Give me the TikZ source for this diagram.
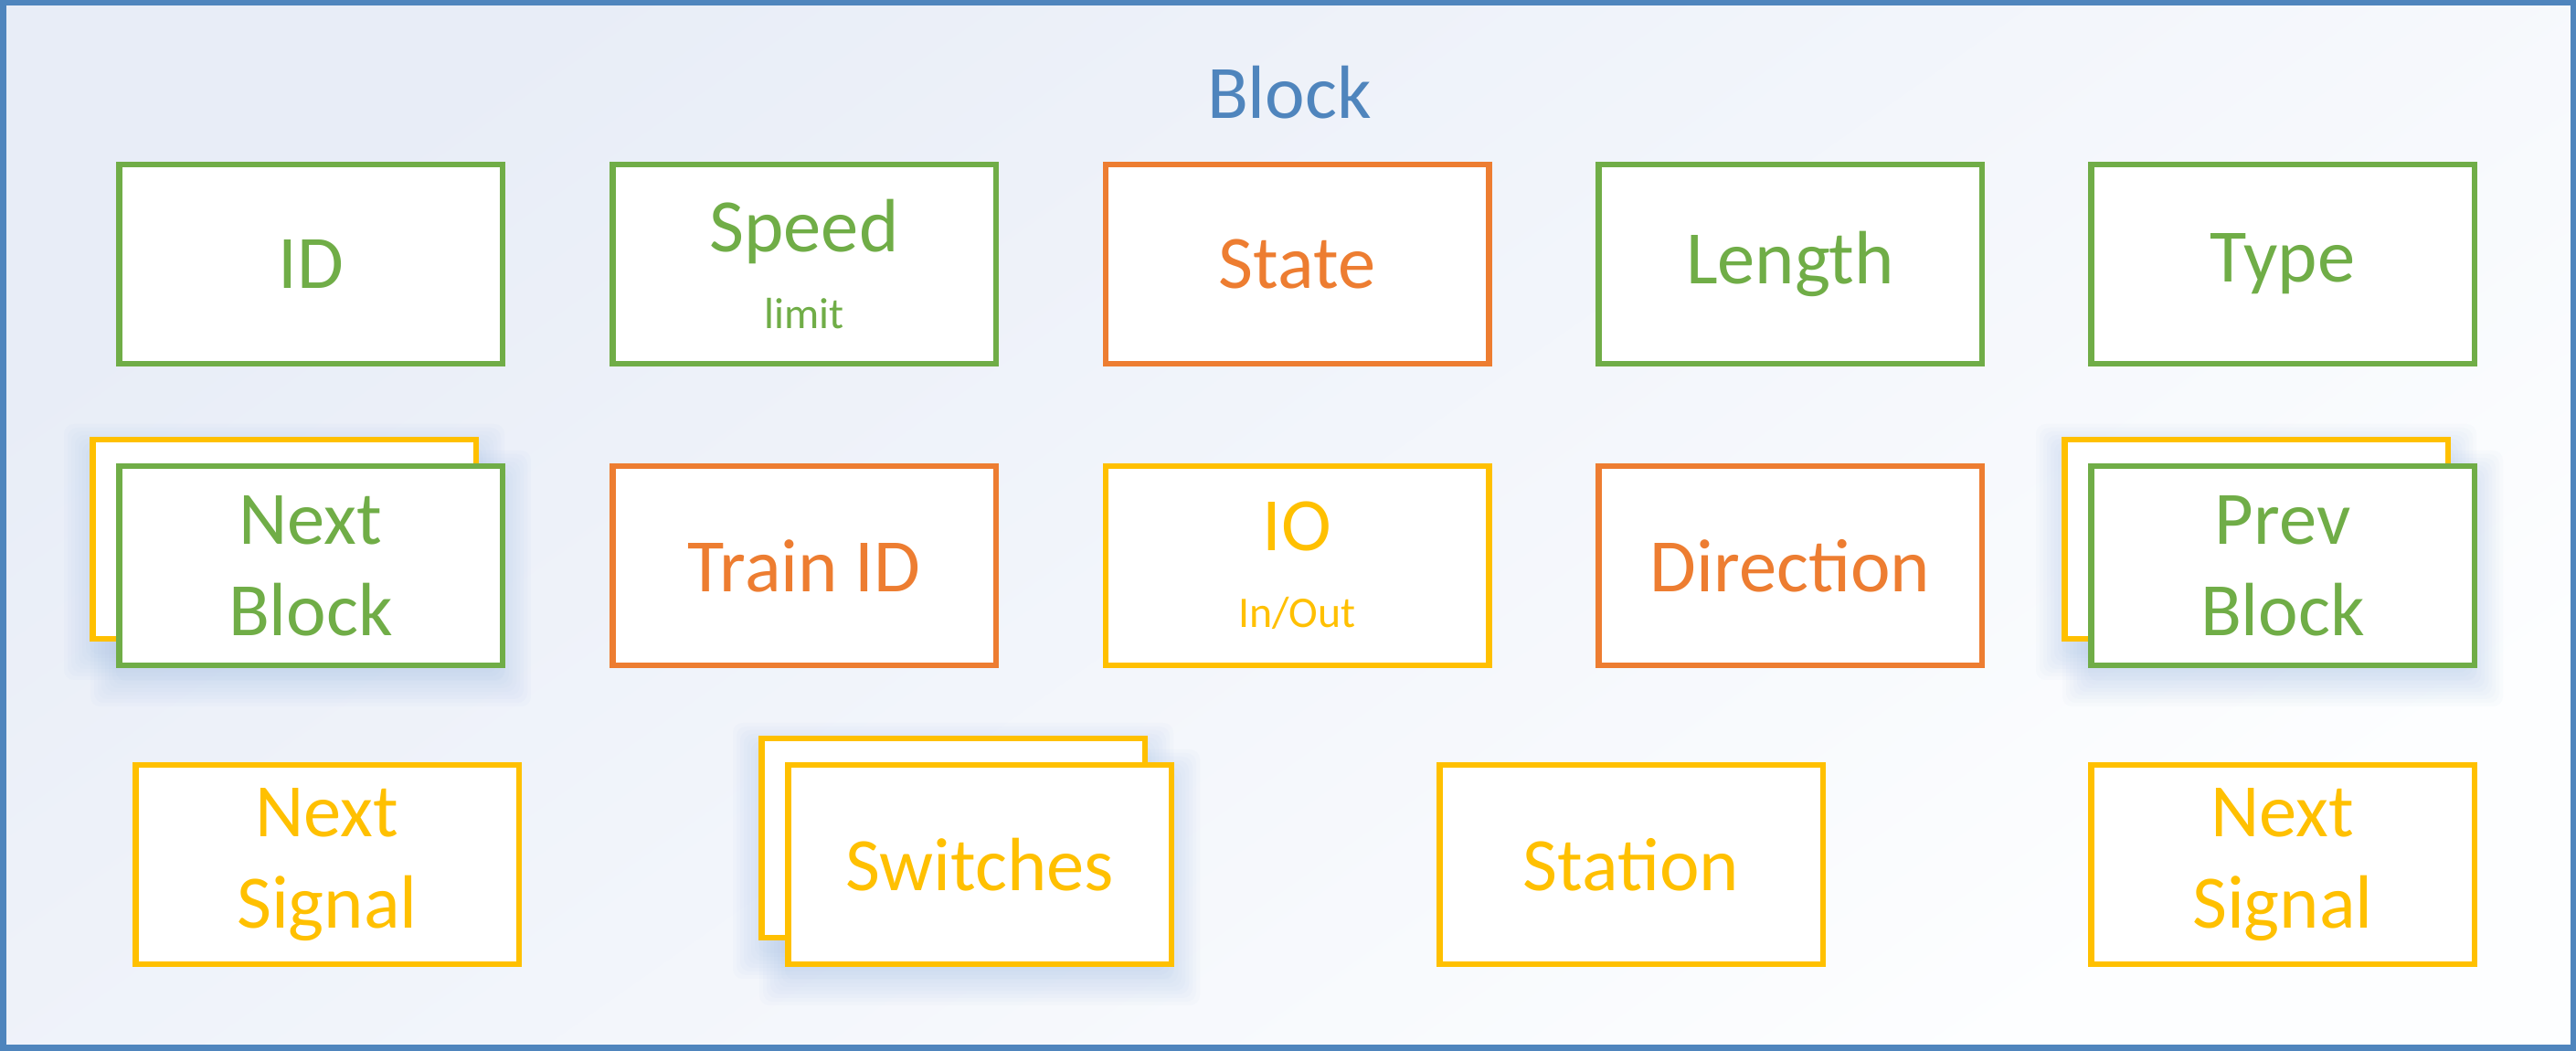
\documentclass[tikz,border=0pt]{standalone}
\usepackage{fontspec}
\setmainfont{Carlito}
\usepackage{tikz}
\usetikzlibrary{positioning}

\definecolor{blockblue}{HTML}{4F85BD}
\definecolor{fieldgreen}{HTML}{70AD47}
\definecolor{fieldorange}{HTML}{ED7D31}
\definecolor{fieldyellow}{HTML}{FFC000}
\definecolor{bgtop}{HTML}{E8EDF7}
\definecolor{bgbottom}{HTML}{FDFEFF}
\definecolor{shadowblue}{HTML}{9FBDE4}

\newcommand{\subtext}[1]{{\fontsize{13.6}{16}\selectfont #1}}
% soft shadow under a field centred at (#1,#2)
\newcommand{\fieldshadow}[2]{%
	\foreach \r in {0.0,0.04,...,0.28}
		\fill [shadowblue, opacity=0.045, rounded corners=3pt] ({#1-2.13-\r},{#2-1.12-0.14-\r}) rectangle ({#1+2.13+\r},{#2+1.12-0.14+\r});
}

\begin{document}
\begin{tikzpicture}[
	field/.style={draw, fill=white, line width=0.065cm, minimum width=4.195cm, minimum height=2.18cm, inner sep=0pt, align=center, font=\fontsize{23.5}{28.4}\selectfont},
	greenfield/.style={draw=fieldgreen, text=fieldgreen},
	orangefield/.style={draw=fieldorange, text=fieldorange},
	yellowfield/.style={draw=fieldyellow, text=fieldyellow}
	]
		\useasboundingbox (0,0) rectangle (28.19,-11.5);
		\shade [top color=bgtop, bottom color=bgbottom, shading angle=35] (0,0) rectangle (28.19,-11.5);
		\draw [blockblue, line width=0.065cm] (0.0325,-0.0325) rectangle (28.1575,-11.4675);
		
		\node (title) [anchor=base, text=blockblue, font=\fontsize{23.5}{28.4}\selectfont] at (14.11,-1.30) {Block};
		
		% first row
		\node (id) [field, greenfield] at (3.40,-2.89) {ID};
		\node (speed) [field, greenfield] at (8.80,-2.89) {Speed\\[-4.6pt]\subtext{limit}};
		\node (state) [field, orangefield] at (14.195,-2.89) {State};
		\node (length) [field, greenfield] at (19.59,-2.89) {Length};
		\node (type) [field, greenfield] at (24.98,-2.89) {Type};
		
		% second row
		\fieldshadow{3.11}{-5.90}
		\fieldshadow{3.40}{-6.19}
		\node (nextblockback) [field, yellowfield] at (3.11,-5.90) {};
		\node (nextblock) [field, greenfield] at (3.40,-6.19) {Next\\Block};
		\node (trainid) [field, orangefield] at (8.80,-6.19) {Train ID};
		\node (io) [field, yellowfield] at (14.195,-6.19) {IO\\[-4.6pt]\subtext{In/Out}};
		\node (direction) [field, orangefield] at (19.59,-6.19) {Direction};
		\fieldshadow{24.69}{-5.90}
		\fieldshadow{24.98}{-6.19}
		\node (prevblockback) [field, yellowfield] at (24.69,-5.90) {};
		\node (prevblock) [field, greenfield] at (24.98,-6.19) {Prev\\Block};
		
		% third row
		\node (nextsignalleft) [field, yellowfield] at (3.58,-9.46) {Next\\Signal};
		\fieldshadow{10.43}{-9.17}
		\fieldshadow{10.72}{-9.46}
		\node (switchesback) [field, yellowfield] at (10.43,-9.17) {};
		\node (switches) [field, yellowfield] at (10.72,-9.46) {Switches};
		\node (station) [field, yellowfield] at (17.85,-9.46) {Station};
		\node (nextsignalright) [field, yellowfield] at (24.98,-9.46) {Next\\Signal};
		
	\end{tikzpicture}
\end{document}
